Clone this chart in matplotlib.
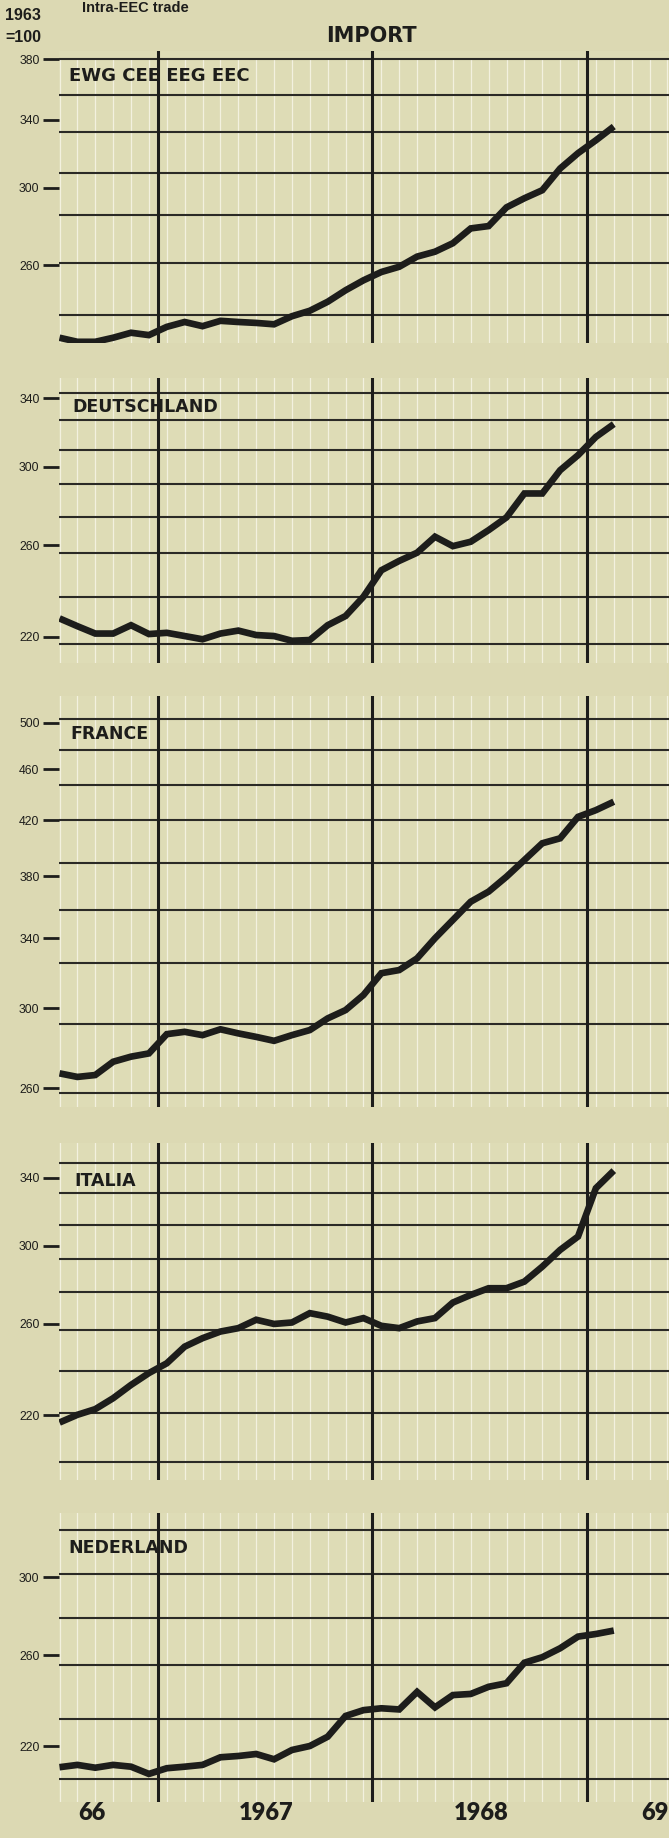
import matplotlib
matplotlib.use("Agg")
import matplotlib.pyplot as plt
import numpy as np
from matplotlib.ticker import NullLocator

# monthly index, 0 = Jan 1966 -> points Jul 1966 .. Feb 1969
months = np.arange(6, 38)
year_breaks = [11.5, 23.5, 35.5]
year_labels = ["66", "1967", "1968", "69"]

names = ["EWG CEE EEG EEC", "DEUTSCHLAND", "FRANCE", "ITALIA", "NEDERLAND"]

ewg = [227.4, 225.7, 225.7, 227.4, 229.5, 228.5, 232.0, 234.1, 232.3, 234.6, 234.1,
       233.7, 233.1, 236.6, 239.0, 243.0, 248.2, 252.8, 256.7, 259.2, 264.1, 266.5,
       270.7, 278.2, 279.4, 289.2, 294.1, 298.5, 310.7, 319.6, 327.3, 335.7]
deutschland = [227.5, 224.3, 221.3, 221.3, 224.7, 221.1, 221.6, 220.3, 219.0, 221.3,
               222.5, 220.7, 220.3, 218.4, 218.7, 224.7, 228.5, 236.7, 248.4, 252.7,
               256.5, 264.1, 259.6, 261.7, 267.3, 273.6, 285.8, 285.8, 298.2, 306.5,
               316.9, 324.4]
france = [267.0, 265.3, 266.2, 272.6, 275.1, 276.7, 286.4, 287.6, 285.9, 288.9, 286.8,
          285.0, 283.0, 285.9, 288.5, 294.6, 299.0, 307.2, 319.4, 321.2, 328.0, 340.0,
          351.3, 363.0, 369.6, 379.6, 391.1, 403.0, 406.6, 422.5, 427.6, 434.1]
italia = [217.0, 220.1, 222.4, 226.9, 232.5, 237.6, 241.9, 249.4, 253.3, 256.4, 258.0,
          262.0, 260.0, 260.7, 265.2, 263.5, 260.7, 262.8, 259.1, 258.0, 261.2, 262.8,
          270.4, 274.2, 277.6, 277.6, 281.0, 288.8, 297.8, 305.2, 333.5, 344.4]
nederland = [211.6, 212.5, 211.4, 212.5, 211.8, 209.0, 211.2, 211.8, 212.5, 215.5,
             216.0, 216.8, 214.7, 218.4, 220.0, 223.8, 232.5, 235.0, 235.8, 235.3,
             243.0, 236.2, 241.6, 242.1, 245.3, 246.9, 256.4, 259.0, 263.3, 269.0,
             270.3, 272.0]
series = [ewg, deutschland, france, italia, nederland]

tick_values = [
    [380, 340, 300, 260],
    [340, 300, 260, 220],
    [500, 460, 420, 380, 340, 300, 260],
    [340, 300, 260, 220],
    [300, 260, 220],
]
# printed grid of the paper (black horizontal rules)
grid_values = [
    [380, 356, 332.5, 308, 285, 261, 237],
    [343.5, 327, 309.3, 291, 273.8, 256.5, 236.6, 217],
    [503, 476, 447.5, 420, 389, 357.7, 325, 291.6, 257.6],
    [349, 330.4, 312, 293, 275.7, 257, 238.6, 220.7, 201.7],
    [327.4, 301.8, 278.2, 255.4, 231, 207],
]
ylims = [(225.2, 386.1), (209.6, 352.7), (251.4, 524.5), (195.3, 362.1), (198.6, 337.8)]

# layout in pixels of the 669x1838 page
W, H = 669, 1838
panel_px = [(50.7, 343), (378.3, 663.3), (696, 1107), (1143.3, 1480), (1512.7, 1801.7)]
title_px = [(69, 76), (72.5, 407), (70.5, 734), (74, 1181), (68, 1548)]

paper = "#dcd9b3"
ink = "#1d1d1b"
rule = "#2b2a26"
narrow = ["Liberation Sans", "DejaVu Sans"]

fig = plt.figure(figsize=(W / 100, H / 100), dpi=100, facecolor=paper)


def fx(x):
    return x / W


def fy(y):
    return 1 - y / H


x_left, x_right = 59, 669
m_left = 6 - (59.5 - x_left) / 17.88
m_right = 6 + (x_right - 59.5) / 17.88

for i in range(5):
    top, bot = panel_px[i]
    ax = fig.add_axes([fx(x_left), fy(bot), (x_right - x_left) / W, (bot - top) / H])
    ax.set_facecolor("#dedcb6")
    ax.set_yscale("log")
    ax.set_xlim(m_left, m_right)
    ax.set_ylim(*ylims[i])
    for s in ax.spines.values():
        s.set_visible(False)

    # light monthly rules start at the top black rule in the first panel
    lo, hi = np.log(ylims[i])
    wtop = 1.0 if i else (np.log(grid_values[0][0]) - lo) / (hi - lo)
    for m in range(6, 41):
        ax.axvline(m, ymin=0, ymax=wtop, color="#f3f1df", lw=0.9, zorder=1)
    for g in grid_values[i]:
        ax.axhline(g, color=rule, lw=1.5, zorder=2)
    for b in year_breaks:
        ax.axvline(b, color=ink, lw=2.2, zorder=3)

    ax.plot(months, series[i], color=ink, lw=4.8, solid_joinstyle="miter",
            solid_capstyle="butt", zorder=4)

    ax.set_xticks([])
    ax.yaxis.set_minor_locator(NullLocator())
    ax.set_yticks(tick_values[i])
    ax.set_yticklabels([str(t) for t in tick_values[i]], family=narrow, fontsize=8.8,
                       color=ink)
    ax.tick_params(axis="y", direction="out", length=11.5, width=2.0, pad=2.5,
                   color=ink)

    tx, ty = title_px[i]
    fig.text(fx(tx), fy(ty), names[i], ha="left", va="center", fontsize=13 if i == 0 else 12.5,
             fontweight="bold", family="DejaVu Sans", color=ink)

# header
fig.text(fx(82), fy(11.5), "Intra-EEC trade", ha="left", va="baseline", fontsize=10.5,
         fontweight="bold", family=narrow, color=ink)
fig.text(fx(41), fy(16), "1963", ha="right", va="center", fontsize=11.5,
         fontweight="bold", family=narrow, color=ink)
fig.text(fx(41), fy(37.5), "=100", ha="right", va="center", fontsize=11.5,
         fontweight="bold", family=narrow, color=ink)
fig.text(fx(371), fy(36), "IMPORT", ha="center", va="center", fontsize=15,
         fontweight="bold", family="DejaVu Sans", color=ink)

# year labels under the last panel
for lab, xp in zip(year_labels, [92, 266, 481, 655]):
    fig.text(fx(xp), fy(1813), lab, ha="center", va="center", fontsize=17,
             fontweight="heavy", family="Lato", color=ink)

fig.savefig("out.png", dpi=100, facecolor=paper)
